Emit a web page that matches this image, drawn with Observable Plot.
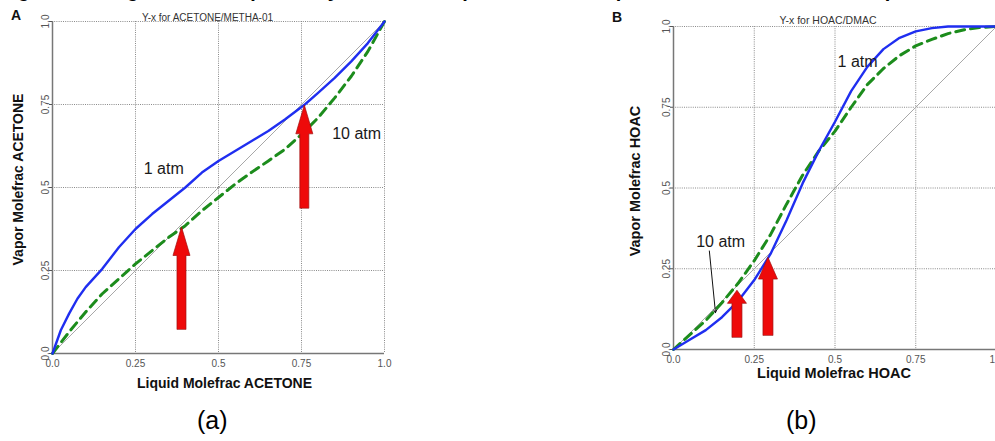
<!DOCTYPE html>
<html>
<head>
<meta charset="utf-8">
<script src="https://cdn.jsdelivr.net/npm/d3@7"></script>
<script src="https://cdn.jsdelivr.net/npm/@observablehq/plot@0.6"></script>
<style>
  html, body { margin: 0; padding: 0; background: #fff; }
  #fig { position: relative; width: 995px; height: 441px; overflow: hidden;
         font-family: "Liberation Sans", Arial, sans-serif; }
  .abs { position: absolute; white-space: nowrap; line-height: 1; }
  .caption { font-weight: bold; font-size: 20px; color: #000; }
  .panel-tag { font-weight: bold; font-size: 14px; color: #111; }
  .sub { font-size: 25px; color: #000; }
</style>
</head>
<body>
<div id="fig"></div>
<script>
// ---- shared axis ticks ----
const ticks = [0, 0.25, 0.5, 0.75, 1];
const tickLabels = ["0.0", "0.25", "0.5", "0.75", "1.0"];
const diagonal = [0, 1];

// ---- panel A: acetone / methanol ----
const acetoneX      = [0, 0.025, 0.05, 0.075, 0.1, 0.15, 0.2, 0.25, 0.3, 0.35, 0.4, 0.45, 0.5, 0.55, 0.6, 0.65, 0.7, 0.76, 0.8, 0.85, 0.9, 0.95, 1.0];
const acetoneY1atm  = [0, 0.07, 0.12, 0.165, 0.2, 0.255, 0.32, 0.375, 0.42, 0.46, 0.5, 0.545, 0.58, 0.61, 0.64, 0.67, 0.705, 0.75, 0.785, 0.83, 0.88, 0.935, 1.0];
const acetoneX10    = [0, 0.05, 0.1, 0.15, 0.2, 0.25, 0.3, 0.35, 0.4, 0.45, 0.5, 0.55, 0.6, 0.65, 0.7, 0.75, 0.8, 0.85, 0.9, 0.95, 1.0];
const acetoneY10atm = [0, 0.065, 0.125, 0.18, 0.225, 0.27, 0.31, 0.35, 0.385, 0.43, 0.47, 0.51, 0.546, 0.58, 0.615, 0.66, 0.71, 0.77, 0.835, 0.91, 1.0];
const acetoneArrowX    = [0.39, 0.76];
const acetoneArrowFrom = [0.072, 0.437];
const acetoneArrowTo   = [0.38, 0.747];
const acetoneLabels  = ["1 atm", "10 atm"];
const acetoneLabelX  = [0.335, 0.916];
const acetoneLabelY  = [0.557, 0.663];

// ---- panel B: acetic acid / DMAC ----
const hoacX      = [0, 0.05, 0.1, 0.15, 0.2, 0.25, 0.3, 0.35, 0.4, 0.45, 0.5, 0.55, 0.6, 0.65, 0.7, 0.75, 0.8, 0.85, 0.9, 0.95, 1.0];
const hoacY1atm  = [0, 0.03, 0.06, 0.1, 0.15, 0.215, 0.295, 0.4, 0.515, 0.615, 0.705, 0.8, 0.875, 0.93, 0.965, 0.985, 0.995, 1.0, 1.0, 1.0, 1.0];
const hoacY10atm = [0, 0.045, 0.09, 0.145, 0.205, 0.275, 0.355, 0.45, 0.54, 0.615, 0.676, 0.75, 0.82, 0.87, 0.91, 0.94, 0.96, 0.978, 0.99, 0.997, 1.0];
const hoacArrowX    = [0.198, 0.294];
const hoacArrowFrom = [0.037, 0.043];
const hoacArrowTo   = [0.182, 0.284];
const hoacLabels = ["1 atm", "10 atm"];
const hoacLabelX = [0.57, 0.146];
const hoacLabelY = [0.889, 0.333];
const hoacPointerFrom = [0.111, 0.305];
const hoacPointerTo   = [0.13, 0.114];

const BLUE = "#1f2ef0", GREEN = "#1c8c1c", RED = "#ee0a0a";
const fmt = d => tickLabels[ticks.indexOf(d)];

// Block arrow outline for an areaX mark (pixel sizes turned into data units)
function blockArrows(xs, from, to, innerW, shaftPx, headPx) {
  const rows = [];
  xs.forEach((x, i) => {
    const len = to[i] - from[i];
    const base = to[i] - len * 0.28;
    const s = shaftPx / 2 / innerW, h = headPx / 2 / innerW;
    rows.push({id: i, y: from[i], x1: x - s, x2: x + s});
    rows.push({id: i, y: base, x1: x - s, x2: x + s});
    rows.push({id: i, y: base, x1: x - h, x2: x + h});
    rows.push({id: i, y: to[i], x1: x, x2: x});
  });
  return rows;
}

function panel(cfg) {
  const W = 400, H = 400;
  const m = cfg.margin;
  const innerW = W - m.left - m.right;
  const s1 = cfg.x1.map((x, i) => ({x, y: cfg.y1[i]}));
  const s10 = cfg.x10.map((x, i) => ({x, y: cfg.y10[i]}));
  const labels = cfg.labels.map((t, i) => ({t, x: cfg.labelX[i], y: cfg.labelY[i]}));
  const marks = [
    Plot.gridX(ticks.slice(1), {stroke: "#8a8a8a", strokeOpacity: 1, strokeDasharray: "1,1.2"}),
    Plot.gridY(ticks.slice(1), {stroke: "#8a8a8a", strokeOpacity: 1, strokeDasharray: "1,1.2"}),
    Plot.ruleX([0], {stroke: "#777", strokeWidth: 1.5}),
    Plot.ruleY([0], {stroke: "#777", strokeWidth: 1.5}),
    Plot.axisX({ticks, tickFormat: fmt, tickSize: 0, tickPadding: 6, color: "#555", fontSize: 10, label: null}),
    Plot.axisY({ticks, tickFormat: fmt, tickSize: 3, tickRotate: -90, tickPadding: 1, color: "#555", fontSize: 10, label: null}),
    Plot.line(diagonal, {x: d => d, y: d => d, stroke: "#a8a8a8", strokeWidth: 1}),
    Plot.line(s10, {x: "x", y: "y", stroke: GREEN, strokeWidth: 3, strokeDasharray: "9,6"}),
    Plot.line(s1, {x: "x", y: "y", stroke: BLUE, strokeWidth: 2.4}),
    Plot.areaX(blockArrows(cfg.arrowX, cfg.arrowFrom, cfg.arrowTo, innerW, cfg.shaftPx, cfg.headPx),
      {y: "y", x1: "x1", x2: "x2", z: "id", fill: RED, stroke: "#a01010", strokeWidth: 0.7, curve: "linear"}),
    Plot.text(labels, {x: "x", y: "y", text: "t", fontSize: 16, fill: "#1a1a1a"}),
    Plot.text([cfg.xLabel], {frameAnchor: "bottom", dx: cfg.xLabelDx, dy: cfg.xLabelDy, fontSize: cfg.labelSize, fontWeight: "bold", fill: "#111"}),
    Plot.text([cfg.yLabel], {frameAnchor: "left", textAnchor: "middle", dx: cfg.yLabelDx, dy: cfg.yLabelDy, rotate: -90, fontSize: cfg.labelSize, fontWeight: "bold", fill: "#111"}),
    Plot.text([cfg.title], {frameAnchor: "top", dx: cfg.titleDx, dy: cfg.titleDy, fontSize: cfg.titleSize, fill: "#333"})
  ];
  if (cfg.pointerFrom) {
    marks.push(Plot.arrow([0], {
      x1: () => cfg.pointerFrom[0], y1: () => cfg.pointerFrom[1],
      x2: () => cfg.pointerTo[0], y2: () => cfg.pointerTo[1],
      stroke: "#111", strokeWidth: 1, headLength: 5
    }));
  }
  return Plot.plot({
    width: W, height: H,
    marginLeft: m.left, marginRight: m.right, marginTop: m.top, marginBottom: m.bottom,
    x: {domain: [0, 1], axis: null},
    y: {domain: [0, 1], axis: null},
    style: {fontFamily: "Liberation Sans, Arial, sans-serif", background: "transparent", overflow: "visible"},
    marks
  });
}

const fig = document.getElementById("fig");

const plotA = panel({
  margin: {left: 52, right: 16, top: 21, bottom: 47},
  x1: acetoneX, y1: acetoneY1atm, x10: acetoneX10, y10: acetoneY10atm,
  arrowX: acetoneArrowX, arrowFrom: acetoneArrowFrom, arrowTo: acetoneArrowTo,
  shaftPx: 9, headPx: 17,
  labels: acetoneLabels, labelX: acetoneLabelX, labelY: acetoneLabelY,
  xLabel: "Liquid Molefrac ACETONE", xLabelDx: 6, xLabelDy: 34,
  yLabel: "Vapor Molefrac ACETONE", yLabelDx: -34, yLabelDy: -8,
  labelSize: 14,
  title: "Y-x for ACETONE/METHA-01", titleDx: -11, titleDy: -8, titleSize: 10
});
const plotB = panel({
  margin: {left: 73, right: 4, top: 26, bottom: 51},
  x1: hoacX, y1: hoacY1atm, x10: hoacX, y10: hoacY10atm,
  arrowX: hoacArrowX, arrowFrom: hoacArrowFrom, arrowTo: hoacArrowTo,
  shaftPx: 10, headPx: 19,
  labels: hoacLabels, labelX: hoacLabelX, labelY: hoacLabelY,
  pointerFrom: hoacPointerFrom, pointerTo: hoacPointerTo,
  xLabel: "Liquid Molefrac HOAC", xLabelDx: -1, xLabelDy: 28,
  yLabel: "Vapor Molefrac HOAC", yLabelDx: -38, yLabelDy: -7,
  labelSize: 14.5,
  title: "Y-x for HOAC/DMAC", titleDx: -7, titleDy: -10, titleSize: 10.5
});

for (const [p, left] of [[plotA, 0], [plotB, 600]]) {
  p.style.position = "absolute";
  p.style.left = left + "px";
  p.style.top = "0px";
  fig.appendChild(p);
}

// text around the panels
function addText(text, cls, left, top) {
  const d = document.createElement("div");
  d.className = "abs " + cls;
  d.textContent = text;
  d.style.left = left + "px";
  d.style.top = top + "px";
  fig.appendChild(d);
}
addText("Figura 2 - Diagramas de equilíbrio y-x de azeótropos sensíveis à pressão e deslocamento do ponto de azeotropia com a variação", "caption", 0, -20);
addText("A", "panel-tag", 11, 8);
addText("B", "panel-tag", 612, 10);
addText("(a)", "sub", 197, 408);
addText("(b)", "sub", 786, 408);
</script>
</body>
</html>
